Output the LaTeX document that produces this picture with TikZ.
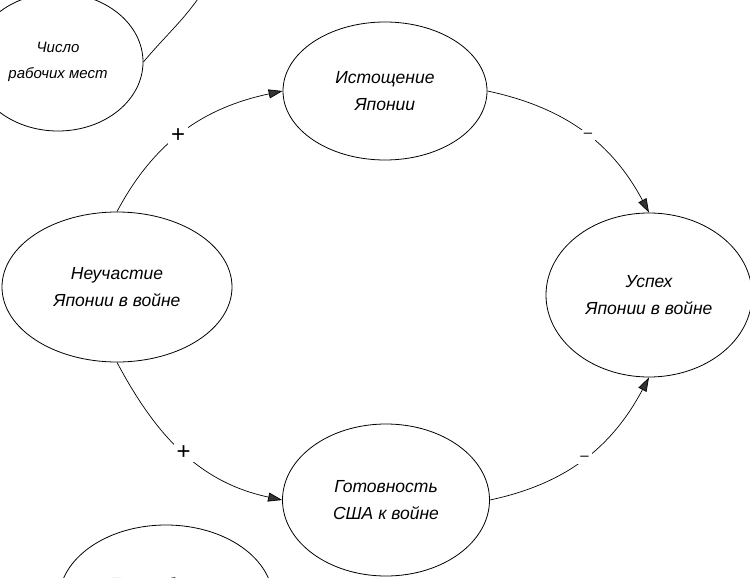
\documentclass[tikz,border=0pt]{standalone}
\usepackage{fontspec}
\setmainfont{Liberation Sans}
\usepackage{tikz}
\usetikzlibrary{shapes.geometric}
\usetikzlibrary{arrows.meta}
\definecolor{tipgray}{HTML}{333333}

\begin{document}
\begin{tikzpicture}[x=1pt,y=-1pt,
  factor/.style={draw,ellipse,inner sep=0pt,line width=.8pt,align=center,font=\itshape\fontsize{17.5}{27}\selectfont},
  lbl/.style={font=\itshape\fontsize{17.5}{27}\selectfont},
  link/.style={line width=.7pt,-{Triangle[length=14pt,width=9pt,fill=tipgray]}},
  plus/.style={fill=white,inner sep=3pt,font=\fontsize{24}{24}\selectfont},
  minus/.style={fill=white,inner sep=3pt,font=\fontsize{15}{15}\selectfont}]
\useasboundingbox (0,0) rectangle (750,578);
\node[factor,minimum width=170,minimum height=138,font=\itshape\fontsize{15}{26}\selectfont] (chislo) at (58,62) {Число\\рабочих мест};
\node[factor,minimum width=204,minimum height=138] (istosh) at (385,91) {Истощение\\Японии};
\node[factor,minimum width=230,minimum height=150] (neuch) at (117,287) {Неучастие\\Японии в войне};
\node[factor,minimum width=206,minimum height=164] (uspeh) at (649,295) {Успех\\Японии в войне};
\node[factor,minimum width=207,minimum height=152] (gotov) at (386,500) {Готовность\\США к войне};
\node[factor,minimum width=214,minimum height=150] (potreb) at (166,600) {};
\node[lbl] (potrebtxt) at (166,586) {Потребление};
\coordinate (offtop) at (210,-20);
% links
\draw[line width=.7pt] (chislo.east) to[out=50,in=-120] (offtop);
\draw[link] (neuch.north) to[out=62,in=192] node[plus,pos=.46]{+} (istosh.west);
\draw[link] (istosh.east) to[out=-12,in=118] node[minus,pos=.53]{–} (uspeh.north);
\draw[link] (neuch.south) to[out=-62,in=168] node[plus,pos=.5]{+} (gotov.west);
\draw[link] (gotov.east) to[out=12,in=-118] node[minus,pos=.5]{–} (uspeh.south);
\end{tikzpicture}
\end{document}
